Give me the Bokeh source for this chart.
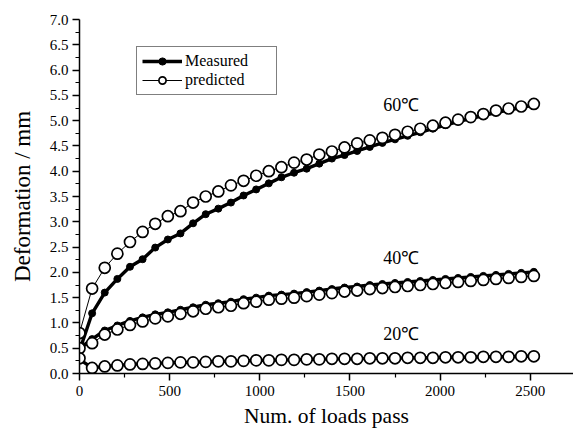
from bokeh.plotting import figure
from bokeh.models import Range1d, Legend, LegendItem, PrintfTickFormatter, FixedTicker, ColumnDataSource
from bokeh.core.properties import value
from bokeh.embed import file_html
from bokeh.resources import INLINE

# Number of load passes
passes = [0, 70, 140, 210, 280, 350, 420, 490, 560, 630, 700, 770, 840, 910, 980,
          1050, 1120, 1190, 1260, 1330, 1400, 1470, 1540, 1610, 1680, 1750, 1820,
          1890, 1960, 2030, 2100, 2170, 2240, 2310, 2380, 2450, 2520]

meas_60 = [0.45, 1.19, 1.60, 1.87, 2.11, 2.26, 2.49, 2.65, 2.77, 2.97, 3.15, 3.26, 3.38,
           3.52, 3.64, 3.76, 3.88, 3.97, 4.05, 4.15, 4.25, 4.32, 4.40, 4.48, 4.56, 4.63,
           4.70, 4.77, 4.84, 4.91, 4.98, 5.04, 5.10, 5.16, 5.21, 5.26, 5.31]
pred_60 = [0.80, 1.68, 2.09, 2.37, 2.60, 2.80, 2.96, 3.11, 3.21, 3.38, 3.50, 3.60, 3.72,
           3.81, 3.91, 4.00, 4.08, 4.17, 4.23, 4.33, 4.39, 4.47, 4.55, 4.61, 4.66, 4.72,
           4.78, 4.84, 4.90, 4.96, 5.02, 5.07, 5.13, 5.20, 5.24, 5.28, 5.33]

meas_40 = [0.50, 0.68, 0.85, 0.95, 1.04, 1.11, 1.17, 1.21, 1.26, 1.31, 1.36, 1.39, 1.42,
           1.47, 1.50, 1.54, 1.56, 1.58, 1.61, 1.64, 1.67, 1.70, 1.72, 1.75, 1.77, 1.79,
           1.81, 1.83, 1.85, 1.87, 1.89, 1.91, 1.93, 1.95, 1.97, 1.99, 2.01]
pred_40 = [0.50, 0.60, 0.77, 0.87, 0.96, 1.03, 1.09, 1.13, 1.18, 1.23, 1.28, 1.31, 1.34,
           1.39, 1.42, 1.46, 1.48, 1.50, 1.53, 1.56, 1.59, 1.62, 1.64, 1.67, 1.69, 1.71,
           1.73, 1.75, 1.77, 1.79, 1.81, 1.83, 1.85, 1.87, 1.89, 1.91, 1.93]

meas_20 = [0.28, 0.11, 0.14, 0.16, 0.18, 0.19, 0.20, 0.21, 0.22, 0.22, 0.23, 0.24, 0.24,
           0.25, 0.26, 0.26, 0.27, 0.27, 0.28, 0.28, 0.29, 0.29, 0.29, 0.30, 0.30, 0.30,
           0.31, 0.31, 0.31, 0.32, 0.32, 0.32, 0.33, 0.33, 0.33, 0.34, 0.34]
pred_20 = [0.30, 0.11, 0.14, 0.16, 0.18, 0.19, 0.20, 0.21, 0.22, 0.22, 0.23, 0.24, 0.24,
           0.25, 0.26, 0.26, 0.27, 0.27, 0.28, 0.28, 0.29, 0.29, 0.29, 0.30, 0.30, 0.30,
           0.31, 0.31, 0.31, 0.32, 0.32, 0.32, 0.33, 0.33, 0.33, 0.34, 0.34]

temp_labels = ["60\u2103", "40\u2103", "20\u2103"]
temp_label_x = [1785, 1785, 1785]
temp_label_y = [5.30, 2.29, 0.79]

x_ticks = [0, 500, 1000, 1500, 2000, 2500]
y_ticks = [0.0, 0.5, 1.0, 1.5, 2.0, 2.5, 3.0, 3.5, 4.0, 4.5, 5.0, 5.5, 6.0, 6.5, 7.0]

SERIF = "Liberation Serif"

p = figure(width=573, height=433, output_backend="svg", toolbar_location=None,
           x_range=Range1d(0, 2740), y_range=Range1d(0, 7.0),
           min_border_left=79, min_border_right=0, min_border_top=19, min_border_bottom=60)
p.outline_line_color = None
p.xgrid.visible = False
p.ygrid.visible = False
p.background_fill_color = "white"
p.border_fill_color = "white"

meas_renderers = []
pred_renderers = []
for meas, pred in [(meas_60, pred_60), (meas_40, pred_40), (meas_20, pred_20)]:
    ml = p.line(passes, meas, line_color="black", line_width=3.4)
    ms = p.scatter(passes, meas, marker="circle", size=7, fill_color="black", line_color="black")
    meas_renderers.append((ml, ms))
for meas, pred in [(meas_60, pred_60), (meas_40, pred_40), (meas_20, pred_20)]:
    pl = p.line(passes, pred, line_color="black", line_width=1)
    ps = p.scatter(passes, pred, marker="circle", size=11, fill_color="white",
                   line_color="black", line_width=1.7)
    pred_renderers.append((pl, ps))

src = ColumnDataSource(dict(x=temp_label_x, y=temp_label_y, t=temp_labels))
p.text(x="x", y="y", text="t", source=src, text_font=value(SERIF), text_font_size="18px",
       text_align="center", text_baseline="middle", text_color="black")

for ax in (p.xaxis[0], p.yaxis[0]):
    ax.axis_line_color = "black"
    ax.axis_line_width = 1.5
    ax.major_tick_line_color = "black"
    ax.minor_tick_line_color = "black"
    ax.major_tick_line_width = 1.5
    ax.minor_tick_line_width = 1.2
    ax.major_tick_out = 7
    ax.major_tick_in = 0
    ax.minor_tick_out = 4
    ax.minor_tick_in = 0
    ax.major_label_text_font = SERIF
    ax.major_label_text_font_size = "15px"
    ax.major_label_text_color = "black"
    ax.axis_label_text_font = SERIF
    ax.axis_label_text_font_style = "normal"
    ax.axis_label_text_color = "black"

p.xaxis.axis_label_text_font_size = "21.5px"
p.yaxis.axis_label_text_font_size = "23px"
p.xaxis.ticker = FixedTicker(ticks=x_ticks, minor_ticks=[250, 750, 1250, 1750, 2250, 2750])
p.yaxis.ticker = FixedTicker(ticks=y_ticks,
                             minor_ticks=[0.25 + 0.5 * i for i in range(14)])
p.yaxis.formatter = PrintfTickFormatter(format="%.1f")
p.xaxis.axis_label = "Num. of loads pass"
p.yaxis.axis_label = "Deformation / mm"
p.xaxis.major_label_standoff = 5
p.xaxis.axis_label_standoff = 5
p.yaxis.major_label_standoff = 4
p.yaxis.axis_label_standoff = 12

legend = Legend(items=[
    LegendItem(label="Measured", renderers=[meas_renderers[0][0], meas_renderers[0][1]]),
    LegendItem(label="predicted", renderers=[pred_renderers[0][0], pred_renderers[0][1]]),
], location=(57, 278))
legend.border_line_color = "black"
legend.border_line_width = 1
legend.background_fill_color = "white"
legend.background_fill_alpha = 1
legend.padding = 5
legend.spacing = 1
legend.glyph_width = 40
legend.glyph_height = 18
legend.label_height = 18
legend.label_width = 86
legend.label_standoff = 3
legend.margin = 0
legend.label_text_font = SERIF
legend.label_text_font_size = "16px"
legend.label_text_color = "black"
p.add_layout(legend, "center")

open("out.html", "w").write(file_html(p, INLINE))
